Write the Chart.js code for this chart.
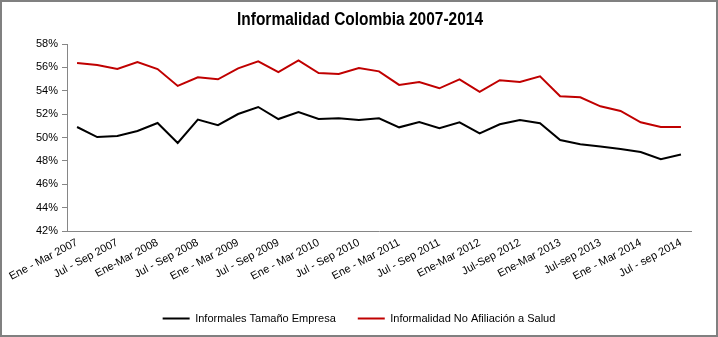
<!DOCTYPE html>
<html>
<head>
<meta charset="utf-8">
<script src="https://cdn.jsdelivr.net/npm/chart.js@4"></script>
<style>
html,body{margin:0;padding:0;background:#fff;}
#wrap{width:718px;height:337px;position:relative;}
</style>
</head>
<body>
<div id="wrap"><canvas id="c" width="718" height="337"></canvas></div>
<script>
const chartTitle = 'Informalidad Colombia 2007-2014';
const categories = [
 "Ene - Mar 2007","Abr - Jun 2007","Jul - Sep 2007","Oct - Dic 2007",
 "Ene-Mar 2008","Abr-Jun 2008","Jul - Sep 2008","Oct - Dic 2008",
 "Ene - Mar 2009","Abr - Jun 2009","Jul - Sep 2009","Oct - Dic 2009",
 "Ene - Mar 2010","Abr - Jun 2010","Jul - Sep 2010","Oct - Dic 2010",
 "Ene - Mar 2011","Abr - Jun 2011","Jul - Sep 2011","Oct - Dic 2011",
 "Ene-Mar 2012","Abr-Jun 2012","Jul-Sep 2012","Oct-Dic 2012",
 "Ene-Mar 2013","Abr-Jun 2013","Jul-sep 2013","Oct-Dic 2013",
 "Ene - Mar 2014","Abr - Jun 2014","Jul - sep 2014"
];
const informalesTamanoEmpresa = [
 50.9,50.04,50.13,50.56,51.24,49.53,51.53,51.05,52.01,52.61,51.58,52.18,51.58,51.64,51.5,
 51.64,50.87,51.33,50.79,51.3,50.36,51.13,51.5,51.22,49.78,49.42,49.22,49.02,48.76,48.14,48.54
];
const informalidadNoAfiliacionSalud = [
 56.37,56.2,55.86,56.46,55.86,54.41,55.15,54.98,55.92,56.52,55.6,56.6,55.52,55.43,55.95,
 55.66,54.5,54.75,54.21,54.98,53.9,54.9,54.75,55.24,53.53,53.44,52.67,52.27,51.3,50.9,50.9
];
const yTicks = [42,44,46,48,50,52,54,56,58];

const decorPlugin = {
  id:'decor',
  beforeDraw(chart){
    const ctx = chart.ctx;
    ctx.save();
    ctx.fillStyle = '#fff';
    ctx.fillRect(0,0,chart.width,chart.height);
    ctx.restore();
  },
  afterDraw(chart){
    const ctx = chart.ctx;
    ctx.save();
    ctx.font = 'bold 18px "Liberation Sans", Arial, sans-serif';
    const w = ctx.measureText(chartTitle).width;
    const sx = 246 / w;
    ctx.translate(360, 20);
    ctx.scale(sx, 1);
    ctx.fillStyle = '#000';
    ctx.textAlign = 'center';
    ctx.textBaseline = 'middle';
    ctx.fillText(chartTitle, 0, 0);
    ctx.restore();
    ctx.save();
    ctx.strokeStyle = '#808080';
    ctx.lineWidth = 2;
    ctx.strokeRect(1,1,chart.width-2,chart.height-2);
    ctx.restore();
  }
};

new Chart(document.getElementById('c'), {
  type:'line',
  data:{
    labels: categories,
    datasets:[
      {label:'Informales Tamaño Empresa', data: informalesTamanoEmpresa, borderColor:'#000000', backgroundColor:'#000000', borderWidth:2, pointRadius:0, tension:0},
      {label:'Informalidad No Afiliación a Salud', data: informalidadNoAfiliacionSalud, borderColor:'#C00000', backgroundColor:'#C00000', borderWidth:2, pointRadius:0, tension:0}
    ]
  },
  options:{
    responsive:false,
    animation:false,
    layout:{padding:{left:0,right:0,top:44,bottom:3}},
    plugins:{
      title:{display:false},
      legend:{position:'bottom',
        labels:{color:'#000', font:{family:'"Liberation Sans",Arial', size:11}, boxWidth:27, boxHeight:2, padding:22,
          generateLabels(chart){
            return chart.data.datasets.map((d,i)=>({text:d.label, fillStyle:d.borderColor, strokeStyle:d.borderColor, lineWidth:0, hidden:false, datasetIndex:i, fontColor:'#000'}));
          }}},
      tooltip:{enabled:false}
    },
    scales:{
      x:{
        offset:true,
        grid:{display:false, drawTicks:false},
        border:{display:true, color:'#868686', width:1},
        ticks:{autoSkip:false, maxRotation:28, minRotation:28, color:'#000', padding:5,
          font:{family:'"Liberation Sans",Arial', size:11},
          callback(v,i){ return i%2===0 ? categories[i] : ''; }},
        afterFit(s){ s.height = 60; }
      },
      y:{
        min:42, max:58,
        grid:{display:true, drawOnChartArea:false, drawTicks:true, tickLength:5, color:'#868686'},
        border:{display:true, color:'#868686', width:1},
        afterBuildTicks(s){ s.ticks = yTicks.map(v=>({value:v})); },
        ticks:{color:'#000', padding:4, font:{family:'"Liberation Sans",Arial', size:11},
          callback(v){ return v + '%'; }},
        afterFit(s){ s.width = 67; }
      },
      yRight:{
        position:'right', min:42, max:58,
        grid:{display:false, drawTicks:false},
        border:{display:false},
        ticks:{display:false},
        afterFit(s){ s.width = 27; }
      }
    }
  },
  plugins:[decorPlugin]
});
</script>
</body>
</html>
